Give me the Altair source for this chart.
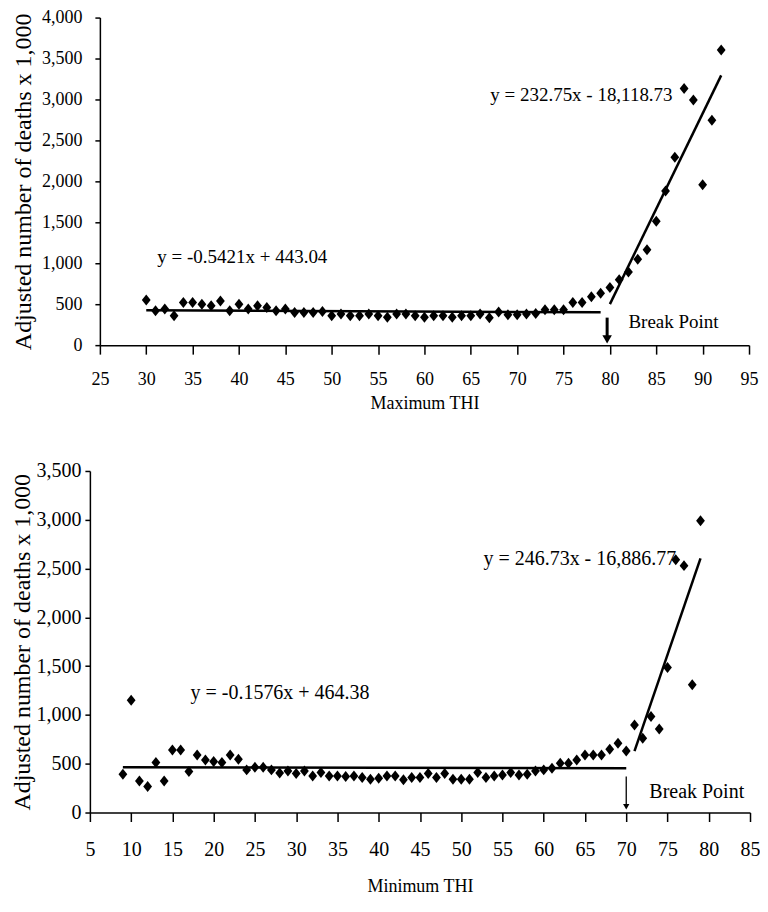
import altair as alt
import pandas as pd

FONT = "'Liberation Serif', 'Times New Roman', Times, serif"

# ---------- Top panel: Maximum THI ----------
max_thi = list(range(30, 93))
max_deaths = [550, 420, 440, 360, 520, 520, 500, 480, 540, 420,
              500, 440, 480, 460, 420, 440, 400, 400, 400, 410,
              360, 380, 360, 360, 380, 360, 340, 380, 380, 360,
              340, 360, 360, 340, 360, 360, 380, 335, 405, 370,
              370, 380, 385, 432, 432, 432, 520, 520, 592, 633,
              705, 800, 892, 1048, 1165, 1513, 1881, 2293, 3133, 2993,
              1960, 2745, 3605]
max_fit_seg = ["low", "low", "high", "high"]
max_fit_x = [30, 79, 80, 92]
max_fit_y = [426.8, 400.2, 501.3, 3294.3]
max_eq_text = ["y = -0.5421x + 443.04", "y = 232.75x - 18,118.73"]
max_eq_x = [31.2, 67.1]
max_eq_y = [1080, 3050]
max_break_x = 79.7
max_break_label = "Break Point"

# ---------- Bottom panel: Minimum THI ----------
min_thi = list(range(9, 80))
min_deaths = [392, 1150, 324, 266, 512, 324, 641, 641, 420, 590,
              539, 522, 512, 590, 546, 437, 463, 463, 437, 405,
              425, 400, 425, 375, 410, 375, 375, 370, 375, 360,
              340, 350, 375, 375, 335, 360, 360, 400, 360, 400,
              341, 341, 341, 409, 358, 375, 385, 409, 385, 392,
              426, 437, 454, 505, 505, 539, 590, 590, 590, 648,
              709, 631, 897, 761, 983, 857, 1487, 2590, 2530, 1310,
              2990]
min_fit_seg = ["low", "low", "high", "high"]
min_fit_x = [9, 70, 71, 79]
min_fit_y = [462.96, 453.35, 630.1, 2604.0]
min_eq_text = ["y = -0.1576x + 464.38", "y = 246.73x - 16,886.77"]
min_eq_x = [17.2, 52.7]
min_eq_y = [1228, 2600]
min_break_x = 70
min_break_label = "Break Point"

DIAMOND = "M-0.8,0L0,-1L0.8,0L0,1Z"


def panel(xs, ys, fx, fy, fseg, eqt, eqx, eqy, bx, blabel,
          xdom, ydom, yvals, xtitle, w, h, x_inset, lab_size, title_size, xtitle_size,
          eq_size, arrow_w, arrow_top, arrow_bot, head_size,
          bl_x, bl_y, title_pad, xtitle_pad, xlab_pad, ylab_pad):
    pts = pd.DataFrame({"x": xs, "y": ys})
    fit = pd.DataFrame({"x": fx, "y": fy, "seg": fseg})
    eq = pd.DataFrame({"x": eqx, "y": eqy, "t": eqt})
    arr = pd.DataFrame({"x": [bx], "y": [arrow_top], "y2": [arrow_bot]})
    bl = pd.DataFrame({"x": [bl_x], "y": [bl_y], "t": [blabel]})

    xsc = alt.Scale(domain=xdom, nice=False, zero=False, range=[x_inset, w])
    ysc = alt.Scale(domain=ydom, nice=False, zero=False)
    xax = alt.Axis(values=list(range(xdom[0], xdom[1] + 1, 5)), title=xtitle,
                   grid=False, tickSize=9, tickColor="black", domainColor="black",
                   domainWidth=1.5, tickWidth=1.5, labelFont=FONT,
                   labelFontSize=lab_size, labelColor="black", labelPadding=xlab_pad,
                   titleFont=FONT, titleFontSize=xtitle_size, titleFontWeight="normal",
                   titleColor="black", titlePadding=xtitle_pad, labelFlush=False)
    yax = alt.Axis(values=yvals, format=",d", title="Adjusted number of deaths x 1,000",
                   grid=False, tickSize=5, tickColor="black", domainColor="black",
                   domainWidth=1.5, tickWidth=1.5, labelFont=FONT,
                   labelFontSize=lab_size, labelColor="black", labelPadding=ylab_pad,
                   titleFont=FONT, titleFontSize=title_size, titleFontWeight="normal",
                   titleColor="black", titlePadding=title_pad, labelFlush=False,
                   offset=-x_inset)

    points = alt.Chart(pts).mark_point(shape=DIAMOND, filled=True, color="black",
                                       size=121, opacity=1).encode(
        x=alt.X("x:Q", scale=xsc, axis=xax),
        y=alt.Y("y:Q", scale=ysc, axis=yax))
    lines = alt.Chart(fit).mark_line(color="black", strokeWidth=2.5).encode(
        x=alt.X("x:Q", scale=xsc), y=alt.Y("y:Q", scale=ysc), detail="seg:N")
    eqs = alt.Chart(eq).mark_text(font=FONT, fontSize=eq_size, align="left",
                                  baseline="middle", color="black").encode(
        x=alt.X("x:Q", scale=xsc), y=alt.Y("y:Q", scale=ysc), text="t:N")
    rule = alt.Chart(arr).mark_rule(color="black", strokeWidth=arrow_w).encode(
        x=alt.X("x:Q", scale=xsc), y=alt.Y("y:Q", scale=ysc), y2="y2:Q")
    head = alt.Chart(arr).mark_point(shape="triangle-down", filled=True, color="black",
                                     size=head_size, opacity=1).encode(
        x=alt.X("x:Q", scale=xsc), y=alt.Y("y2:Q", scale=ysc))
    btxt = alt.Chart(bl).mark_text(font=FONT, fontSize=eq_size, align="left",
                                   baseline="middle", color="black").encode(
        x=alt.X("x:Q", scale=xsc), y=alt.Y("y:Q", scale=ysc), text="t:N")
    return alt.layer(points, lines, eqs, rule, head, btxt).properties(width=w, height=h)


top = panel(max_thi, max_deaths, max_fit_x, max_fit_y, max_fit_seg,
            max_eq_text, max_eq_x, max_eq_y, max_break_x, max_break_label,
            [25, 95], [0, 4000], list(range(0, 4001, 500)), "Maximum THI",
            660, 328, 10, 18, 24, 18, 19, 3, 336, 70, 90, 82.0, 288,
            6, 6, 16, 13)

bottom = panel(min_thi, min_deaths, min_fit_x, min_fit_y, min_fit_seg,
               min_eq_text, min_eq_x, min_eq_y, min_break_x, min_break_label,
               [5, 85], [0, 3500], list(range(0, 3501, 500)), "Minimum THI",
               661, 342, 0, 20, 24, 18, 20, 1.3, 368, 60, 40, 72.8, 215,
               1, 18, 18, 4)

chart = alt.vconcat(top, bottom, spacing=49).properties(
    padding={"left": 3, "top": 0, "right": 0, "bottom": 0}
).configure_view(stroke=None)

chart.save("out.html", embed_options={"renderer": "svg", "actions": False})
